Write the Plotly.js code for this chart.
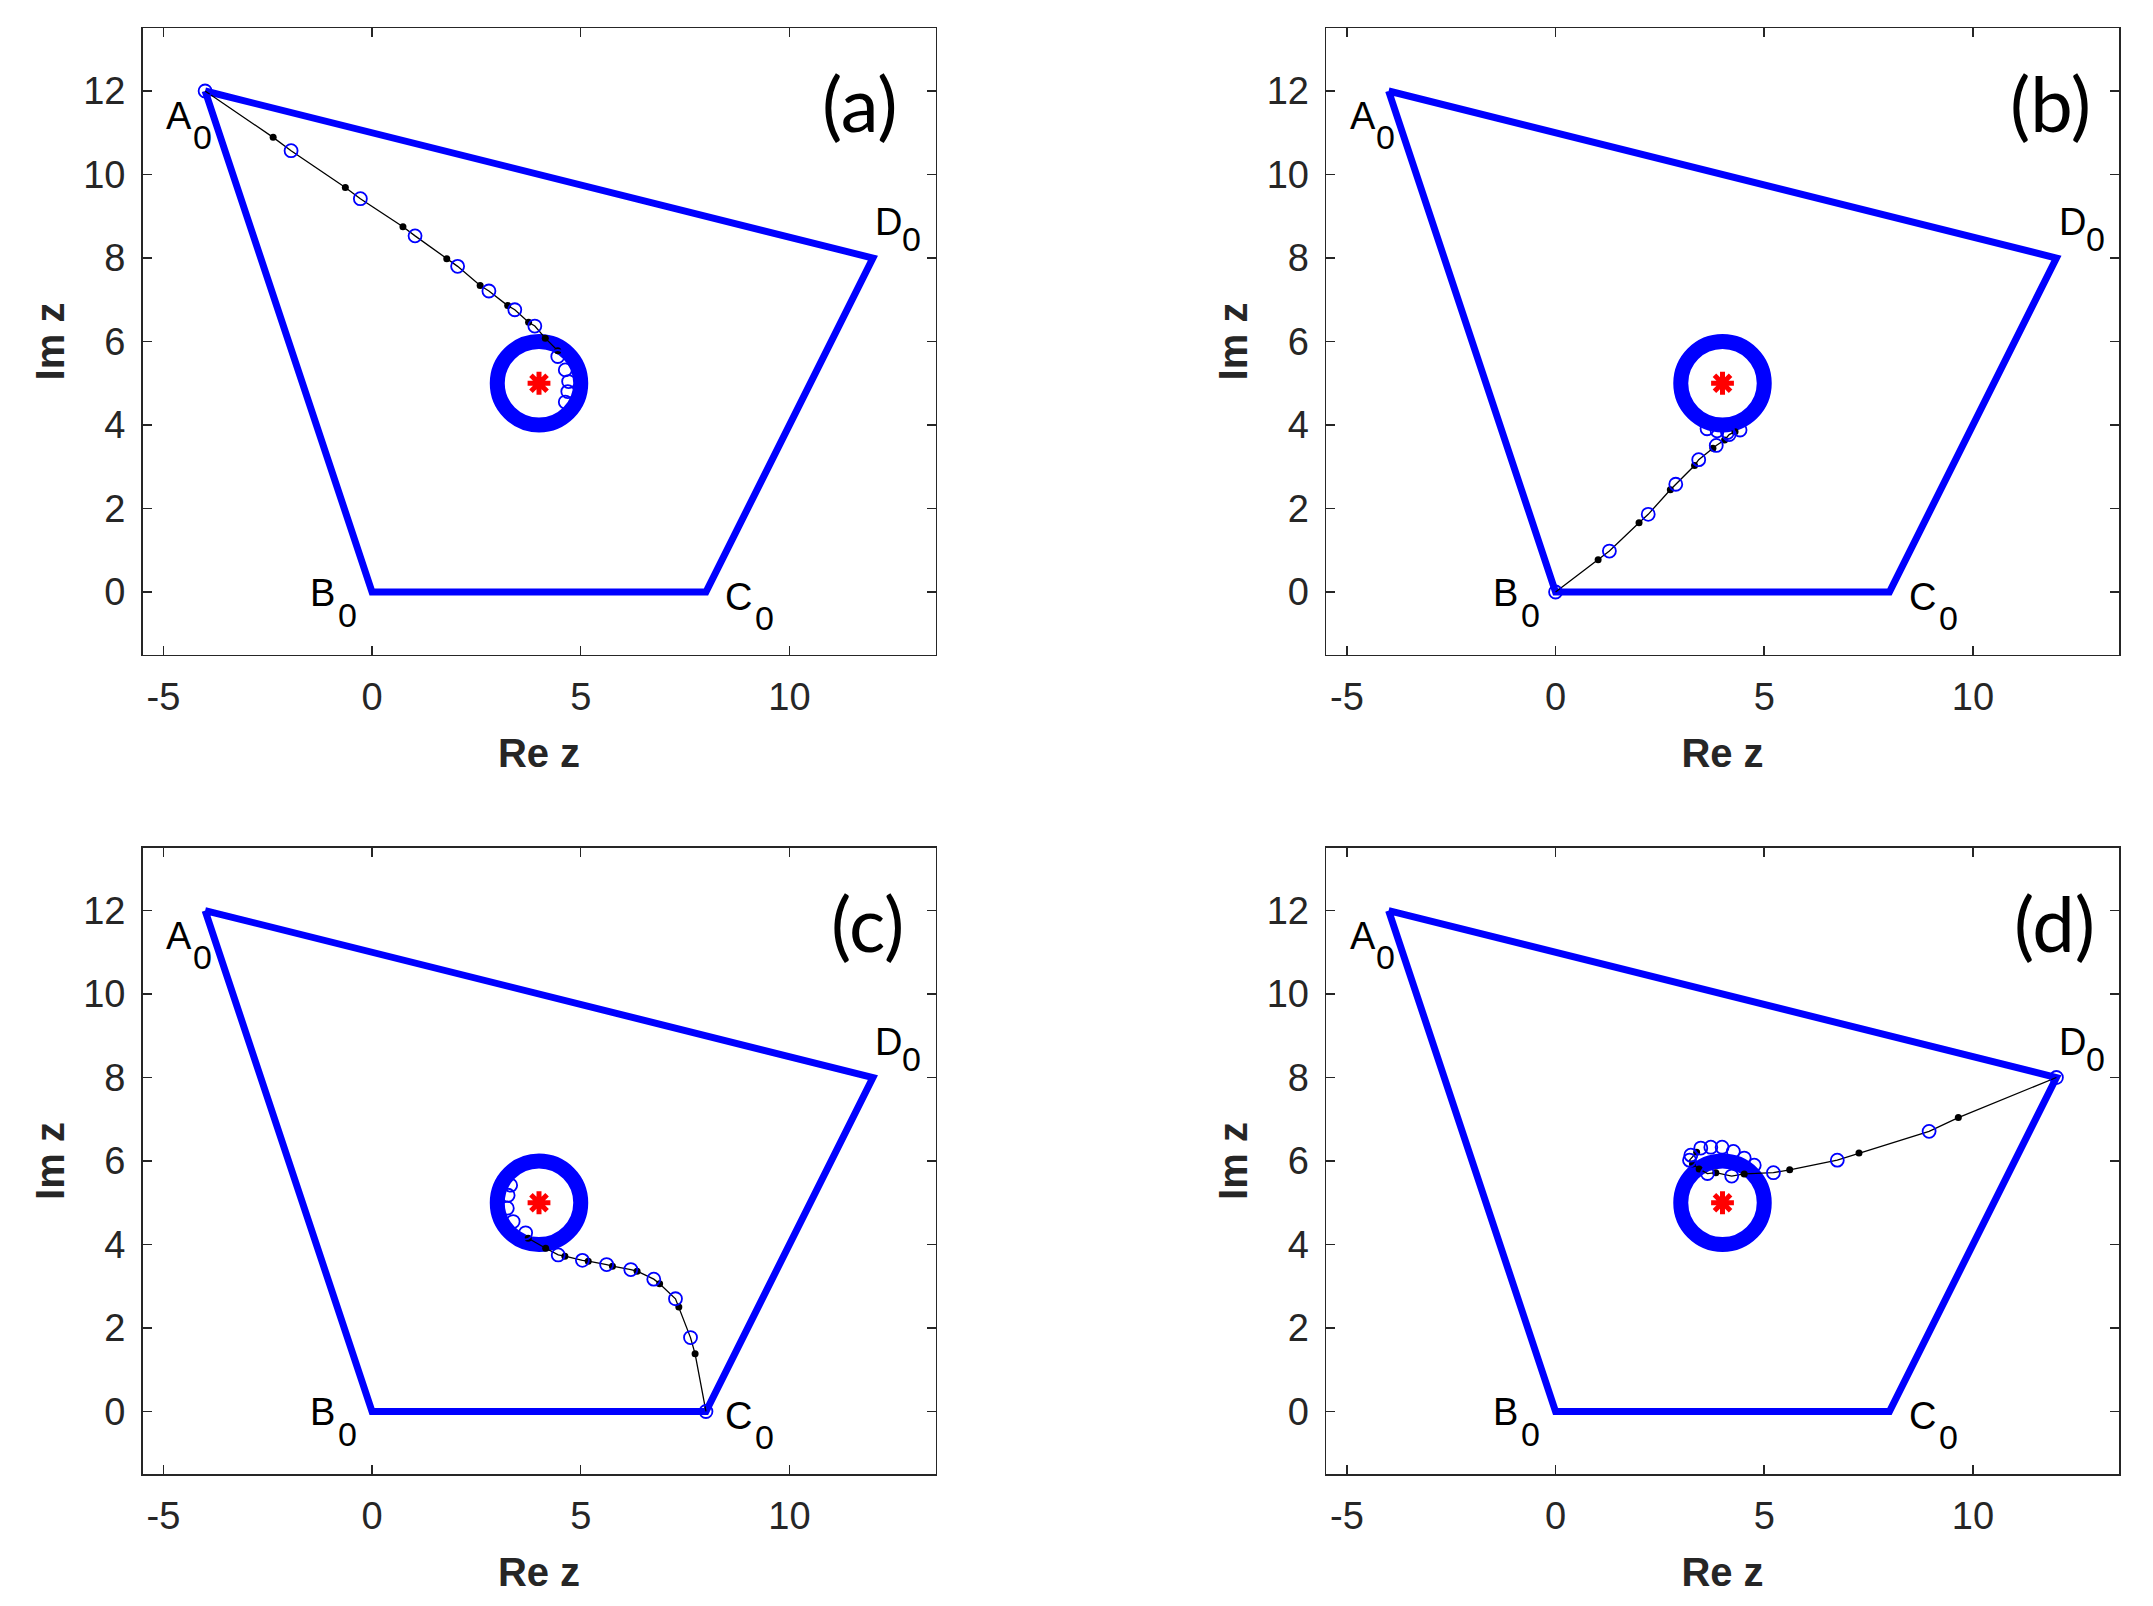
<!DOCTYPE html>
<html>
<head>
<meta charset="utf-8">
<script src="https://cdn.plot.ly/plotly-3.0.1.min.js"></script>
<style>
  html, body { margin: 0; padding: 0; background: #fff; }
  #chart { width: 2153px; height: 1606px; }
</style>
</head>
<body>
<div id="chart"></div>
<script>
// domain polygon A0 B0 C0 D0 (closed)
const polyX = [-4, 0, 8, 12, -4];
const polyY = [12, 0, 0, 8, 12];
const vertexNames = ["A", "B", "C", "D"];

// obstacle: centre and radius
const obstacleCentre = [4, 5];
const obstacleRadius = [1.0];

const panelTags = ["(a)", "(b)", "(c)", "(d)"];
const xTickVals = [-5, 0, 5, 10];
const xTickText = ["-5", "0", "5", "10"];
const yTickVals = [0, 2, 4, 6, 8, 10, 12];

// trajectories: "o" = blue circle, "d" = black step marker
const aX = [-4.0, -2.37, -1.94, -0.64, -0.28, 0.74, 1.03, 1.79, 2.05, 2.59, 2.80, 3.25, 3.42, 3.75, 3.90, 4.15, 4.45, 4.45, 4.63, 4.71, 4.69, 4.63];
const aY = [12.0, 10.89, 10.57, 9.69, 9.42, 8.75, 8.53, 7.98, 7.80, 7.34, 7.21, 6.86, 6.76, 6.46, 6.37, 6.08, 5.78, 5.64, 5.32, 5.04, 4.80, 4.55];
const aK = ["o","d","o","d","o","d","o","d","o","d","o","d","o","d","o","d","d","o","o","o","o","o"];

const bX = [0.0, 1.02, 1.29, 2.00, 2.22, 2.75, 2.88, 3.33, 3.43, 3.77, 3.85, 4.05, 4.16, 4.30, 4.42, 4.12, 3.87, 3.63];
const bY = [0.0, 0.77, 0.98, 1.66, 1.86, 2.45, 2.58, 3.03, 3.17, 3.44, 3.51, 3.64, 3.77, 3.84, 3.88, 3.82, 3.86, 3.91];
const bK = ["o","d","o","d","o","d","o","d","o","d","o","d","o","d","o","o","o","o"];

const cX = [8.0, 7.74, 7.63, 7.35, 7.27, 6.89, 6.75, 6.35, 6.20, 5.76, 5.62, 5.18, 5.04, 4.62, 4.46, 4.16, 3.74, 3.68, 3.38, 3.24, 3.26, 3.32];
const cY = [0.0, 1.38, 1.77, 2.50, 2.70, 3.06, 3.17, 3.36, 3.40, 3.48, 3.52, 3.60, 3.62, 3.72, 3.75, 3.91, 4.15, 4.28, 4.55, 4.87, 5.18, 5.42];
const cK = ["o","d","o","d","o","d","o","d","o","d","o","d","o","d","o","d","d","o","o","o","o","o"];

const dX = [12.0, 9.65, 8.95, 7.27, 6.75, 5.61, 5.22, 4.52, 4.22, 3.84, 3.64, 3.44, 3.28, 3.21, 3.38, 3.24, 3.48, 3.72, 3.99, 4.26, 4.52, 4.76];
const dY = [8.0, 7.04, 6.71, 6.19, 6.02, 5.79, 5.72, 5.69, 5.64, 5.72, 5.70, 5.81, 5.93, 6.02, 6.21, 6.14, 6.31, 6.33, 6.33, 6.23, 6.07, 5.90];
const dK = ["o","d","o","d","o","d","o","d","o","d","o","d","d","o","d","o","o","o","o","o","o","o"];

const paths = [[aX, aY, aK], [bX, bY, bK], [cX, cY, cK], [dX, dY, dK]];
const tagX = [11.7, 11.87, 11.87, 11.96];

// layout helpers
const colX = [[0.06619, 0.43451], [0.61589, 0.98421]];
const rowY = [[0.59240, 0.98232], [0.08213, 0.47204]];
const axisColor = "#262626";
const font = "Liberation Sans, Arial, sans-serif";
const blue = "#0000ff";

// label offsets in px from each vertex: [letter dx, dy, sub dx, dy] (dy down)
const labelOff = [
  [-26, 25, -3, 46],
  [-50, 1, -25, 23],
  [33, 5, 59, 26],
  [16, -36, 39, -19]
];

const data = [];
const layout = {
  width: 2153, height: 1606,
  margin: {l: 0, r: 0, t: 0, b: 0},
  paper_bgcolor: "#fff", plot_bgcolor: "#fff",
  showlegend: false,
  shapes: [], annotations: []
};

paths.forEach(([px, py, pk], i) => {
  const sfx = i === 0 ? "" : String(i + 1);
  const xr = "x" + sfx, yr = "y" + sfx;
  const axStyle = {
    showline: true, linecolor: axisColor, linewidth: 1.5, mirror: "ticks",
    ticks: "inside", ticklen: 9, tickwidth: 1.5, tickcolor: axisColor,
    showgrid: false, zeroline: false, automargin: true,
    tickfont: {family: font, size: 38, color: axisColor}
  };
  layout["xaxis" + sfx] = Object.assign({}, axStyle, {
    domain: colX[i % 2], anchor: yr, range: [-5.5, 13.5],
    tickvals: xTickVals, ticktext: xTickText, ticklabelstandoff: 8,
    title: {text: "Re z", standoff: 22, font: {family: font, size: 40, weight: "bold", color: axisColor}}
  });
  layout["yaxis" + sfx] = Object.assign({}, axStyle, {
    domain: rowY[Math.floor(i / 2)], anchor: xr, range: [-1.5, 13.5],
    tickvals: yTickVals, ticklabelstandoff: 8,
    title: {text: "Im z", standoff: 6, font: {family: font, size: 40, weight: "bold", color: axisColor}}
  });

  data.push({x: polyX, y: polyY, xaxis: xr, yaxis: yr, type: "scatter", mode: "lines",
    line: {color: blue, width: 7}, hoverinfo: "skip"});

  // trajectory line ends at the last step marker
  const lastD = pk.lastIndexOf("d");
  data.push({x: px.slice(0, lastD + 1), y: py.slice(0, lastD + 1), xaxis: xr, yaxis: yr,
    type: "scatter", mode: "lines", line: {color: "#000", width: 1.3}});
  data.push({x: px.filter((v, k) => pk[k] === "d"), y: py.filter((v, k) => pk[k] === "d"),
    xaxis: xr, yaxis: yr, type: "scatter", mode: "markers",
    marker: {symbol: "circle", size: 7, color: "#000"}});
  data.push({x: px.filter((v, k) => pk[k] === "o"), y: py.filter((v, k) => pk[k] === "o"),
    xaxis: xr, yaxis: yr, type: "scatter", mode: "markers",
    marker: {symbol: "circle-open", size: 13, color: blue, line: {color: blue, width: 1.8}}});
  data.push({x: [obstacleCentre[0]], y: [obstacleCentre[1]], xaxis: xr, yaxis: yr,
    type: "scatter", mode: "markers",
    marker: {symbol: "asterisk-open", size: 19, color: "red", line: {color: "red", width: 5}}});

  layout.shapes.push({type: "circle", xref: xr, yref: yr, layer: "below",
    x0: obstacleCentre[0] - obstacleRadius[0], x1: obstacleCentre[0] + obstacleRadius[0],
    y0: obstacleCentre[1] - obstacleRadius[0], y1: obstacleCentre[1] + obstacleRadius[0],
    line: {color: blue, width: 15}});

  vertexNames.forEach((name, k) => {
    const o = labelOff[k];
    layout.annotations.push({xref: xr, yref: yr, x: polyX[k], y: polyY[k], text: name,
      showarrow: false, xshift: o[0], yshift: -o[1], xanchor: "center", yanchor: "middle",
      font: {family: font, size: 38, color: "#000"}});
    layout.annotations.push({xref: xr, yref: yr, x: polyX[k], y: polyY[k], text: "0",
      showarrow: false, xshift: o[2], yshift: -o[3], xanchor: "center", yanchor: "middle",
      font: {family: font, size: 34, color: "#000"}});
  });

  layout.annotations.push({xref: xr, yref: yr, x: tagX[i], y: 11.72, text: panelTags[i],
    showarrow: false, xanchor: "center", yanchor: "middle",
    font: {family: "Lato, Open Sans, sans-serif", size: 76, color: "#000"}});
});

Plotly.newPlot("chart", data, layout, {staticPlot: true});
</script>
</body>
</html>
